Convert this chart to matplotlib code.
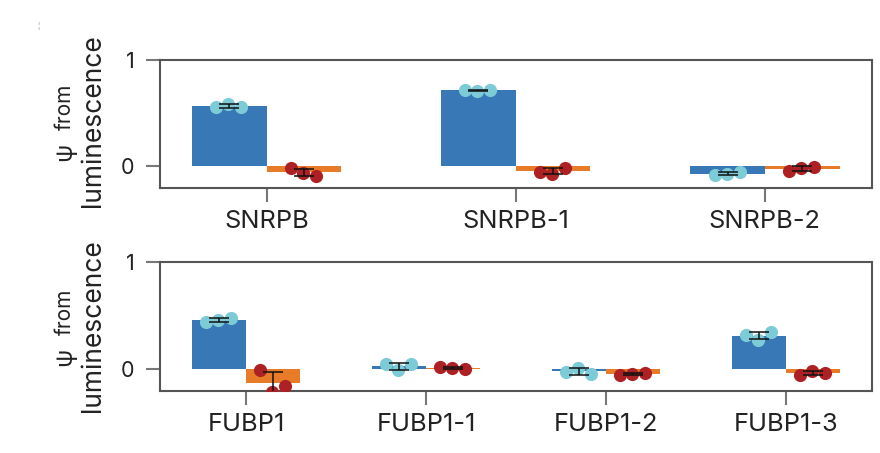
import numpy as np
import matplotlib
matplotlib.use("Agg")
import matplotlib.pyplot as plt

plt.rcParams['font.family'] = ['Inter', 'DejaVu Sans']

# ---- data ----
top_categories = ["SNRPB", "SNRPB-1", "SNRPB-2"]
top_blue_points = [[0.56, 0.585, 0.557], [0.72, 0.71, 0.715], [-0.078, -0.069, -0.056]]
top_orange_points = [[-0.019, -0.059, -0.087], [-0.053, -0.072, -0.016], [-0.047, -0.012, -0.003]]

bot_categories = ["FUBP1", "FUBP1-1", "FUBP1-2", "FUBP1-3"]
bot_blue_points = [[0.44, 0.458, 0.477], [0.05, -0.009, 0.047], [-0.028, 0.016, -0.044], [0.318, 0.278, 0.346]]
bot_orange_points = [[-0.009, -0.215, -0.156], [0.019, 0.016, 0.0], [-0.056, -0.04, -0.034], [-0.05, -0.016, -0.031]]

y_ticks = [0, 1]
y_label_symbol = "ψ"
y_label_line1 = "from"
y_label_line2 = "luminescence"

BLUE = "#3878b6"
ORANGE = "#e87b27"
CYAN = "#7ccbd7"
RED = "#ad2124"
SPINE = "#555555"
TXT = "#222222"

W, H = 880, 453
fig = plt.figure(figsize=(W / 100, H / 100), dpi=100)

def px_axes(l, t, r, b):
    return fig.add_axes([l / W, 1 - b / H, (r - l) / W, (b - t) / H])

ax_top = px_axes(159.5, 60, 872, 187.7)
ax_bot = px_axes(159.5, 262.3, 872.3, 390.7)

jitter_px = [-13, -1, 12]
bar_w = 0.3

def ylabel_px(ax, text, x_px, dy_px, size):
    pos = ax.get_position()
    cy = 1 - (pos.y0 + pos.height / 2)  # fraction from top
    py = cy * H + dy_px
    fig.text(x_px / W, 1 - py / H, text, rotation=90, rotation_mode='anchor',
             ha='center', va='baseline', fontsize=size, color=TXT)

def draw(ax, cats, blue_pts, orange_pts, xlim, dy):
    ax.set_xlim(*xlim)
    ax.set_ylim(-0.2, 1.0)
    ax_w_px = ax.get_position().width * W
    px2data = (xlim[1] - xlim[0]) / ax_w_px
    x = np.arange(len(cats))
    for pts_list, off, bc, pc in [(blue_pts, -bar_w / 2, BLUE, CYAN),
                                  (orange_pts, bar_w / 2, ORANGE, RED)]:
        means = np.array([np.mean(p) for p in pts_list])
        sds = np.array([np.std(p, ddof=1) for p in pts_list])
        ax.bar(x + off, means, width=bar_w, color=bc, zorder=2, linewidth=0)
        for i, p in enumerate(pts_list):
            xs = x[i] + off + np.array(jitter_px) * px2data
            ax.scatter(xs, p, s=90, color=pc, zorder=3, linewidths=0, clip_on=True)
        ax.errorbar(x + off, means, yerr=sds, fmt='none', ecolor='#111111',
                    elinewidth=1.1, capsize=7, capthick=1.1, zorder=4)
    ax.set_xticks(x)
    ax.set_xticklabels(cats, fontsize=18.3, color=TXT)
    ax.set_yticks(y_ticks)
    ax.set_yticklabels([str(v) for v in y_ticks], fontsize=15.5, color=TXT)
    ax.tick_params(axis='both', length=10, width=1.5, color='#777777')
    ax.tick_params(axis='x', pad=6)
    ax.tick_params(axis='y', pad=8)
    for s in ax.spines.values():
        s.set_color(SPINE)
        s.set_linewidth(1.5)
    # y label: "ψ from" / "luminescence"
    ylabel_px(ax, y_label_line2, 100, dy, 19)
    ylabel_px(ax, y_label_line1, 70.7, dy - 13.5, 15)
    ylabel_px(ax, y_label_symbol, 71.5, dy + 31, 17)

draw(ax_top, top_categories, top_blue_points, top_orange_points, (-0.43, 2.43), -3.5)
draw(ax_bot, bot_categories, bot_blue_points, bot_orange_points, (-0.483, 3.482), -1)

# small stray mark at the top-left of the reference
fig.text(38 / W, 1 - 27 / H, "¦", fontsize=6, color="#aaaaaa", ha='center', va='center')

fig.savefig("out.png", dpi=100)
